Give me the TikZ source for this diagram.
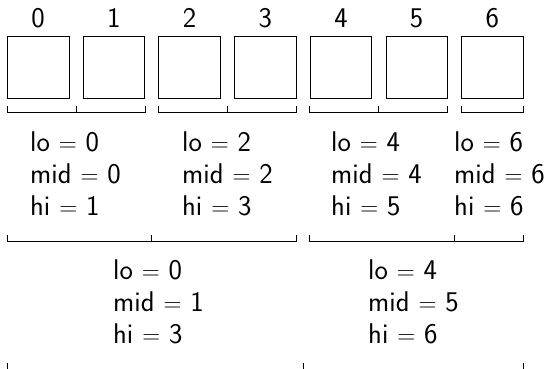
\documentclass[tikz,border=0pt]{standalone}
\usetikzlibrary{calc}
\newcommand\myvalfont{\sffamily\fontsize{28.5}{32}\selectfont}
\newcommand\myidxfont{\sffamily\fontsize{28.5}{32}\selectfont}
\begin{document}
\begin{tikzpicture}[x=1pt,y=-1pt,
  cell/.style={draw, line width=0.8pt, minimum size=61.5pt, inner sep=0pt, anchor=north west},
  idx/.style={font=\myidxfont, anchor=base, inner sep=0pt},
  val/.style={font=\myvalfont, anchor=base west, inner sep=0pt},
  brk/.style={line width=0.8pt, line cap=butt}]
\useasboundingbox (0,0) rectangle (548,368);
\clip (0,0) rectangle (548,368);
% cells and indices
\foreach \i in {0,...,6}{
  \node[cell] (c\i) at ({7+75.7*\i},36) {};
  \path (c\i.north) ++(0,-9) node[idx] (n\i) {\i};
}
% level 1 brackets
\draw[brk] ([yshift=-8pt]c0.south west) -- ++(0,6) -| ([yshift=-8pt]c1.south east);
\draw[brk] ([yshift=-8pt]$(c0.south east)!0.5!(c1.south west)$) -- ++(0,6);
\draw[brk] ([yshift=-8pt]c2.south west) -- ++(0,6) -| ([yshift=-8pt]c3.south east);
\draw[brk] ([yshift=-8pt]$(c2.south east)!0.5!(c3.south west)$) -- ++(0,6);
\draw[brk] ([yshift=-8pt]c4.south west) -- ++(0,6) -| ([yshift=-8pt]c5.south east);
\draw[brk] ([yshift=-8pt]$(c4.south east)!0.5!(c5.south west)$) -- ++(0,6);
\draw[brk] ([yshift=-8pt]c6.south west) -- ++(0,6) -| ([yshift=-8pt]c6.south east);
% level 1 values
\node[val] (lo1) at (30,151) {lo $=$ 0};
\node[val] (mid1) at (30,183) {mid $=$ 0};
\node[val] (hi1) at (30,215) {hi $=$ 1};
\node[val] (lo2) at (182,151) {lo $=$ 2};
\node[val] (mid2) at (182,183) {mid $=$ 2};
\node[val] (hi2) at (182,215) {hi $=$ 3};
\node[val] (lo3) at (331,151) {lo $=$ 4};
\node[val] (mid3) at (331,183) {mid $=$ 4};
\node[val] (hi3) at (331,215) {hi $=$ 5};
\node[val] (lo4) at (454,151) {lo $=$ 6};
\node[val] (mid4) at (454,183) {mid $=$ 6};
\node[val] (hi4) at (454,215) {hi $=$ 6};
% level 2 brackets
\draw[brk] ([yshift=-137pt]c0.south west) -- ++(0,6) -| ([yshift=-137pt]c3.south east);
\draw[brk] ([yshift=-137pt]$(c1.south east)!0.5!(c2.south west)$) -- ++(0,6);
\draw[brk] ([yshift=-137pt]c4.south west) -- ++(0,6) -| ([yshift=-137pt]c6.south east);
\draw[brk] ([yshift=-137pt]$(c5.south east)!0.5!(c6.south west)$) -- ++(0,6);
% level 2 values
\node[val] (lo5) at (113,279) {lo $=$ 0};
\node[val] (mid5) at (113,311) {mid $=$ 1};
\node[val] (hi5) at (113,343) {hi $=$ 3};
\node[val] (lo6) at (368,279) {lo $=$ 4};
\node[val] (mid6) at (368,311) {mid $=$ 5};
\node[val] (hi6) at (368,343) {hi $=$ 6};
% level 3 bracket
\draw[brk] ([yshift=-265pt]c0.south west) -- ++(0,7) -| ([yshift=-265pt]c6.south east);
\draw[brk] ([yshift=-265pt]$(c3.south east)!0.5!(c4.south west)$) -- ++(0,7);
\end{tikzpicture}
\end{document}
